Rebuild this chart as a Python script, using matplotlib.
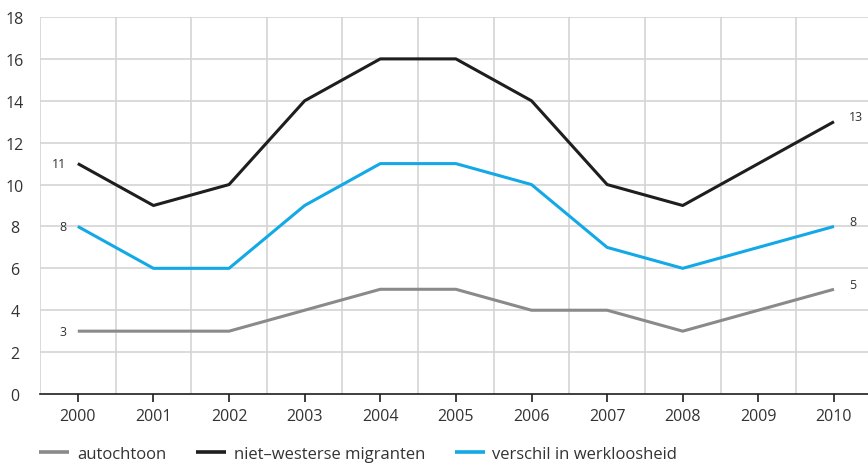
import matplotlib.pyplot as plt
import numpy as np

plt.rcParams["font.family"] = ["Open Sans", "DejaVu Sans"]

years = ["2000", "2001", "2002", "2003", "2004", "2005",
         "2006", "2007", "2008", "2009", "2010"]
autochtoon = [3, 3, 3, 4, 5, 5, 4, 4, 3, 4, 5]
niet_westers = [11, 9, 10, 14, 16, 16, 14, 10, 9, 11, 13]
verschil = [8, 6, 6, 9, 11, 11, 10, 7, 6, 7, 8]

series = [
    ("autochtoon", autochtoon, "#8a8a8a"),
    ("niet–westerse migranten", niet_westers, "#1e1e1e"),
    ("verschil in werkloosheid", verschil, "#12a9e6"),
]

text_color = "#333333"
grid_color = "#d4d4d4"

fig = plt.figure(figsize=(8.68, 4.64), dpi=100)
ax = fig.add_axes([40 / 868, 1 - 395 / 464, 828 / 868, 377 / 464])

x = np.arange(len(years))
for label, values, color in series:
    ax.plot(x, values, color=color, lw=2.2, label=label, solid_capstyle="butt")
    ax.text(x[0] - 0.15, values[0], str(values[0]), ha="right", va="center",
            fontsize=9, color=text_color)
    ax.text(x[-1] + 0.2, values[-1] + 0.25, str(values[-1]), ha="left",
            va="center", fontsize=9, color=text_color)

ax.set_xlim(-0.5, 10.45)
ax.set_ylim(0, 18)
ax.set_yticks(range(0, 19, 2))
ax.set_xticks(x)
ax.set_xticklabels(years)

# vertical grid between the years
for b in np.arange(-0.5, len(years), 1.0):
    ax.axvline(b, color=grid_color, lw=1.2, zorder=0)
for yv in range(2, 19, 2):
    ax.axhline(yv, color=grid_color, lw=1.2, zorder=0)

for side in ["top", "right", "left"]:
    ax.spines[side].set_visible(False)
ax.spines["bottom"].set_color("#1e1e1e")
ax.spines["bottom"].set_linewidth(1.2)

ax.tick_params(axis="y", length=0, pad=18, labelsize=11.5, labelcolor=text_color)
for t in ax.get_yticklabels():
    t.set_horizontalalignment("center")
ax.tick_params(axis="x", length=6, width=1.2, color="#1e1e1e", pad=4,
               labelsize=11.5, labelcolor=text_color)

leg = fig.legend(loc="lower left", bbox_to_anchor=(0.028, -0.03), ncol=3,
                 frameon=False, fontsize=12, handlelength=1.8, handletextpad=0.45,
                 columnspacing=1.8, labelcolor=text_color)
for h in leg.get_lines():
    h.set_linewidth(2.6)

fig.savefig("out.png", dpi=100)
